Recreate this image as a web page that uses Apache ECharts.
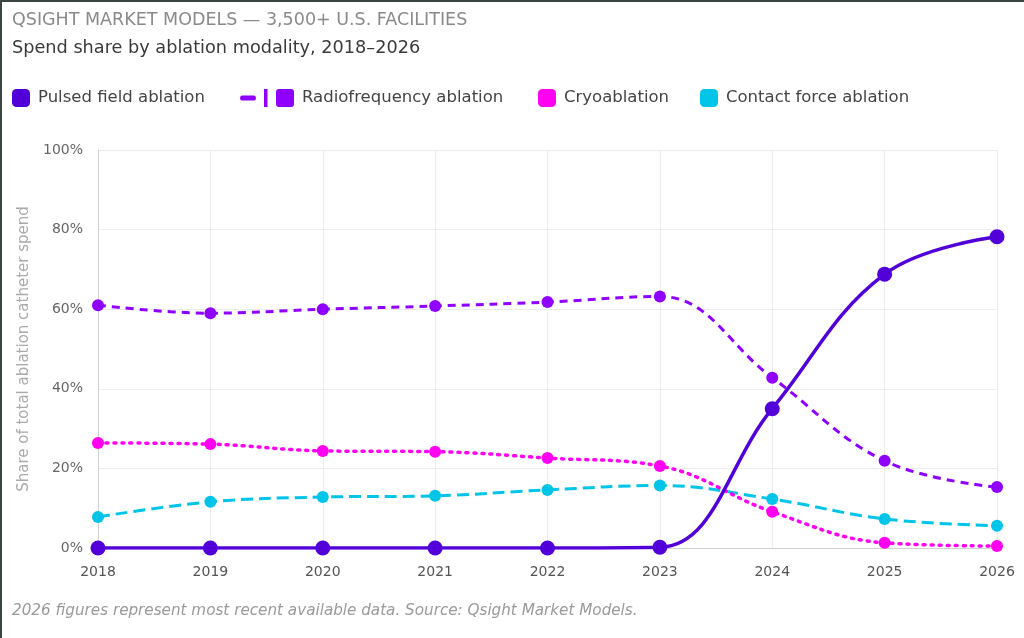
<!DOCTYPE html>
<html>
<head>
<meta charset="utf-8">
<title>Spend share by ablation modality</title>
<script src="https://cdn.jsdelivr.net/npm/echarts@6/dist/echarts.min.js"></script>
<style>
  html, body { margin: 0; padding: 0; background: #fff; }
  #chart { width: 1024px; height: 638px; }
  #frame {
    position: absolute; left: 0; top: 0; width: 1024px; height: 638px;
    border-top: 2px solid #3b4541; border-left: 2px solid #3b4541;
    box-sizing: border-box; pointer-events: none;
  }
</style>
</head>
<body>
<div id="chart"></div>
<div id="frame"></div>
<script>
// data
const years = ['2018', '2019', '2020', '2021', '2022', '2023', '2024', '2025', '2026'];
const pulsedField = [0, 0, 0, 0, 0, 0.2, 35, 68.8, 78.2];
const radiofrequency = [61, 59, 60, 60.8, 61.8, 63.2, 42.8, 21.9, 15.3];
const cryo = [26.4, 26.1, 24.4, 24.2, 22.6, 20.6, 9.1, 1.3, 0.5];
const contactForce = [7.8, 11.6, 12.8, 13.1, 14.6, 15.7, 12.3, 7.3, 5.6];

const FONT = "'DejaVu Sans', 'Open Sans', sans-serif";
const colors = {
  pfa: '#5200d9',
  rf: '#9000ff',
  cryo: '#ff00f0',
  cf: '#00c4e8'
};

// dash + bar + square icon used for the radiofrequency legend entry
const rfIcon = 'path://M2 6.5L14 6.5Q16 6.5 16 9Q16 11.5 14 11.5L2 11.5Q0 11.5 0 9Q0 6.5 2 6.5Z' +
  'M24 0L27.5 0L27.5 18L24 18Z' +
  'M39 0L51 0Q54 0 54 3L54 15Q54 18 51 18L39 18Q36 18 36 15L36 3Q36 0 39 0Z';

const chart = echarts.init(document.getElementById('chart'));

const legendText = { fontFamily: FONT, fontSize: 16.5, color: '#444', padding: [0, 0, 0, 3] };
function legendAt(left, name, extra) {
  return Object.assign({
    left: left,
    top: 89,
    padding: 0,
    itemWidth: 18,
    itemHeight: 18,
    icon: 'roundRect',
    selectedMode: false,
    textStyle: legendText,
    data: [name]
  }, extra || {});
}

chart.setOption({
  animation: false,
  textStyle: { fontFamily: FONT },
  title: [
    {
      text: 'QSIGHT MARKET MODELS — 3,500+ U.S. FACILITIES',
      left: 12, top: 11, padding: 0,
      textStyle: { fontFamily: FONT, fontSize: 17.5, fontWeight: 'normal', color: '#8a8a8a' }
    },
    {
      text: 'Spend share by ablation modality, 2018–2026',
      left: 12, top: 39, padding: 0,
      textStyle: { fontFamily: FONT, fontSize: 17.7, fontWeight: 'normal', color: '#3a3a3a' }
    },
    {
      text: '2026 figures represent most recent available data. Source: Qsight Market Models.',
      left: 12, top: 604, padding: 0,
      textStyle: { fontFamily: FONT, fontSize: 15.2, fontWeight: 'normal', fontStyle: 'italic', color: '#9a9a9a' }
    }
  ],
  legend: [
    legendAt(12, 'Pulsed field ablation'),
    legendAt(240, 'Radiofrequency ablation', { icon: rfIcon, itemWidth: 54 }),
    legendAt(538, 'Cryoablation'),
    legendAt(700, 'Contact force ablation')
  ],
  grid: { left: 98, right: 27, top: 150, bottom: 90 },
  xAxis: {
    type: 'category',
    data: years,
    boundaryGap: false,
    axisLine: { lineStyle: { color: '#d0d0d0' } },
    axisTick: { show: false },
    axisLabel: { color: '#555', fontSize: 14, margin: 17, fontFamily: FONT },
    splitLine: { show: true, lineStyle: { color: '#ececec' } }
  },
  yAxis: {
    type: 'value',
    min: 0,
    max: 100,
    interval: 20,
    name: 'Share of total ablation catheter spend',
    nameLocation: 'middle',
    nameGap: 62,
    nameTextStyle: { color: '#aaa', fontSize: 15, fontFamily: FONT },
    axisLine: { show: true, lineStyle: { color: '#d0d0d0' } },
    axisTick: { show: false },
    axisLabel: { color: '#666', fontSize: 14, margin: 15, formatter: '{value}%', fontFamily: FONT },
    splitLine: { lineStyle: { color: '#ececec' } }
  },
  series: [
    {
      name: 'Contact force ablation',
      type: 'line',
      data: contactForce,
      smooth: 0.4,
      symbol: 'circle',
      symbolSize: 12,
      color: colors.cf,
      lineStyle: { width: 3, type: [12, 6] },
      z: 2
    },
    {
      name: 'Cryoablation',
      type: 'line',
      data: cryo,
      smooth: 0.4,
      symbol: 'circle',
      symbolSize: 12,
      color: colors.cryo,
      lineStyle: { width: 3.5, type: [2, 6], cap: 'round' },
      z: 3
    },
    {
      name: 'Radiofrequency ablation',
      type: 'line',
      data: radiofrequency,
      smooth: 0.4,
      symbol: 'circle',
      symbolSize: 12,
      color: colors.rf,
      lineStyle: { width: 3, type: [8, 6] },
      z: 4
    },
    {
      name: 'Pulsed field ablation',
      type: 'line',
      data: pulsedField,
      smooth: 0.4,
      symbol: 'circle',
      symbolSize: 15,
      color: colors.pfa,
      lineStyle: { width: 3.5 },
      z: 5
    }
  ]
});

window.addEventListener('resize', () => chart.resize());
</script>
</body>
</html>
